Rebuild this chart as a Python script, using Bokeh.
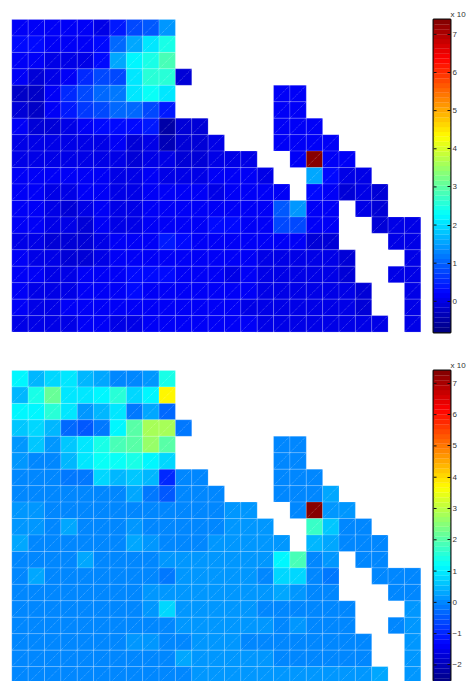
from bokeh.plotting import figure
from bokeh.layouts import column, row
from bokeh.models import Range1d, FixedTicker, LinearAxis, LinearColorMapper, ColumnDataSource
from bokeh.embed import file_html
from bokeh.resources import INLINE

_ = None
top_r0 = [.2,.2,.15,.15,.1,.05,.45,.8,.95,1.45,_,_,_,_,_,_,_,_,_,_,_,_,_,_,_]
top_r1 = [.25,.25,.15,.15,.1,.3,1.0,1.5,2.1,2.4,_,_,_,_,_,_,_,_,_,_,_,_,_,_,_]
top_r2 = [.1,.1,.0,.05,.05,.3,1.5,2.15,2.5,2.9,_,_,_,_,_,_,_,_,_,_,_,_,_,_,_]
top_r3 = [.1,-.1,.0,.1,.5,.8,.8,2.05,2.6,2.6,-.05,_,_,_,_,_,_,_,_,_,_,_,_,_,_]
top_r4 = [-.2,-.25,.1,.55,.8,1.05,1.2,2.1,2.3,2.05,_,_,_,_,_,_,.15,.15,_,_,_,_,_,_,_]
top_r5 = [-.1,-.25,.1,.45,.65,.85,1.0,1.1,.8,.4,_,_,_,_,_,_,.15,.15,_,_,_,_,_,_,_]
top_r6 = [.1,-.05,-.05,.05,.15,.3,.3,.3,.35,-.55,-.05,-.05,_,_,_,_,.15,.15,.15,_,_,_,_,_,_]
top_r7 = [.0,.0,.0,.05,.0,.05,.1,-.1,.0,-.3,-.05,-.05,.0,_,_,_,.15,.15,.1,.1,_,_,_,_,_]
top_r8 = [.05,.05,.05,.0,.0,.0,.0,-.15,.0,.05,-.05,-.1,.0,.05,.05,_,_,.15,7.3,.2,.15,_,_,_,_]
top_r9 = [.15,.1,.1,.1,.15,.1,.05,.0,.1,.05,.05,.0,.1,.1,.1,.05,_,_,1.5,.3,.05,.0,_,_,_]
top_r10 = [.15,.1,.05,.05,.1,.1,.05,.05,.1,.1,.1,.1,.05,.1,.1,.1,.1,_,.3,.15,-.1,.0,-.05,_,_]
top_r11 = [.1,.1,.0,-.05,.05,.1,.05,.0,.1,.1,.15,.1,.1,.1,.1,.1,.95,1.45,.1,.15,_,.0,-.05,_,_]
top_r12 = [.1,.1,.05,.05,-.05,.1,.05,.05,.15,.1,.15,.2,.3,.25,.15,.1,.85,.8,.2,.15,_,_,-.05,.0,.0]
top_r13 = [.05,.05,-.05,-.05,-.05,.05,.1,.15,.15,.35,.3,.2,.2,.1,.1,.1,.2,.1,-.05,-.05,_,_,_,.05,.05]
top_r14 = [.1,.05,.05,-.1,-.1,.05,.1,.1,.15,.15,.2,.15,.1,.1,.1,.05,.05,.05,.05,.05,-.1,_,_,_,.05]
top_r15 = [.1,.1,.05,.05,.15,.15,.1,.25,.3,.25,.1,.2,.1,.05,.1,.05,.05,.05,.05,.05,-.1,_,_,.05,.05]
top_r16 = [.1,.05,.05,.05,.15,.1,.1,.3,.15,.1,.1,.1,.1,.1,.1,.05,.05,.05,.05,.05,.0,-.05,_,_,.05]
top_r17 = [.1,.05,.05,.1,.15,.1,.1,.15,.1,.1,.1,.1,.1,.1,.05,.05,.05,.05,.05,.05,.0,-.05,_,_,.05]
top_r18 = [.05,.05,.05,.05,.1,.1,.05,.05,.1,.1,.1,.1,.1,.1,.1,.05,.05,.05,.05,.05,.05,.0,.0,_,.05]
top_rows = [top_r0, top_r1, top_r2, top_r3, top_r4, top_r5, top_r6, top_r7, top_r8, top_r9,
            top_r10, top_r11, top_r12, top_r13, top_r14, top_r15, top_r16, top_r17, top_r18]

bot_r0 = [1.15,.5,.7,1.0,.5,.3,.0,.0,.15,1.35,_,_,_,_,_,_,_,_,_,_,_,_,_,_,_]
bot_r1 = [.5,1.4,2.2,.95,.9,1.05,1.6,.85,1.05,3.7,_,_,_,_,_,_,_,_,_,_,_,_,_,_,_]
bot_r2 = [1.1,1.05,1.5,.9,.15,.5,.9,-.1,.3,-.25,_,_,_,_,_,_,_,_,_,_,_,_,_,_,_]
bot_r3 = [.6,.75,.45,-.3,-.55,-.2,1.15,2.0,2.75,2.8,-.1,_,_,_,_,_,_,_,_,_,_,_,_,_,_]
bot_r4 = [.2,.55,.2,.55,.9,1.35,1.8,2.1,2.6,2.1,_,_,_,_,_,_,.0,.0,_,_,_,_,_,_,_]
bot_r5 = [.1,.0,.05,.5,.9,1.2,1.3,1.35,1.15,.8,_,_,_,_,_,_,.0,.0,_,_,_,_,_,_,_]
bot_r6 = [.0,-.05,-.05,-.1,-.15,.75,.5,.55,.5,-1.0,.0,.0,_,_,_,_,.0,.0,.0,_,_,_,_,_,_]
bot_r7 = [.0,.0,.0,-.05,-.05,-.05,.05,.3,-.1,-.4,.05,.05,.05,_,_,_,.0,.0,.05,.25,_,_,_,_,_]
bot_r8 = [.15,.2,.05,.05,.0,.0,-.05,-.05,.0,.05,.05,.05,.05,.1,.1,_,_,.0,7.4,.2,.2,_,_,_,_]
bot_r9 = [.1,.15,.05,.25,.05,.05,.05,.2,.05,.05,.05,.05,.05,.1,.1,.1,_,_,1.7,.55,.05,.0,_,_,_]
bot_r10 = [.35,.05,.05,.05,.05,.05,.05,.3,.15,.05,.05,.05,.2,.2,.2,.15,.15,_,.5,.25,.0,.0,-.05,_,_]
bot_r11 = [.05,.05,.05,.05,.25,.05,.05,.05,.05,.1,.15,.1,.15,.15,.15,.15,1.15,1.8,.05,.1,_,.0,.0,_,_]
bot_r12 = [.05,.3,.05,.05,.05,.05,.05,.05,.05,-.1,.15,.1,.1,.15,.15,.05,.8,.7,-.05,-.1,_,_,-.05,.05,.05]
bot_r13 = [.05,.05,.05,.05,.05,.05,.05,.05,.15,.2,.15,.15,.2,.15,.1,.1,.25,.2,.0,.0,_,_,_,.05,.05]
bot_r14 = [.05,.05,.05,.05,.05,.05,.05,.05,.15,.75,.2,.15,.15,.15,.1,.05,.05,.05,.0,.0,.0,_,_,_,.1]
bot_r15 = [.05,.05,.05,.05,.05,.05,.05,.05,.05,-.05,.15,.15,.15,.15,.2,.15,-.05,.1,.05,.05,.05,_,_,.05,.1]
bot_r16 = [.05,.05,.05,.05,.05,.05,.05,.2,.15,.05,-.05,.15,.15,.1,.05,.05,.05,.05,.05,.05,.05,.05,_,_,.1]
bot_r17 = [.05,.05,.05,.05,.05,.05,.05,.05,.05,.05,.25,.15,.15,.15,.1,.1,.05,.05,.05,.05,.05,.05,_,_,.1]
bot_r18 = [.05,.05,.05,.05,.05,.05,.05,.05,.05,.05,.05,.2,.2,.15,.15,.1,.1,.1,.1,.1,.1,.1,.25,_,.1]
bot_rows = [bot_r0, bot_r1, bot_r2, bot_r3, bot_r4, bot_r5, bot_r6, bot_r7, bot_r8, bot_r9,
            bot_r10, bot_r11, bot_r12, bot_r13, bot_r14, bot_r15, bot_r16, bot_r17, bot_r18]

top_low, top_high = -0.81, 7.39
bot_low, bot_high = -2.58, 7.41
top_ticks = [0, 1, 2, 3, 4, 5, 6, 7]
bot_ticks = [-2, -1, 0, 1, 2, 3, 4, 5, 6, 7]
scale_label = "x 10"


def jet(n=64):
    def ramp(t):
        return max(0.0, min(1.0, 1.5 - abs(4 * t)))
    cols = []
    for i in range(n):
        t = (i + 0.5) / n
        r = ramp(t - 0.75)
        g = ramp(t - 0.5)
        b = ramp(t - 0.25)
        cols.append("#%02x%02x%02x" % (round(r * 255), round(g * 255), round(b * 255)))
    return cols


PAL = jet()
CW, CH = 16.36, 16.45
ORIGIN_X = 0


def heat(rows, low, high, page_top, page_bottom, grid_top):
    x0 = (ORIGIN_X - 11.3) / CW
    x1 = (431 - 11.3) / CW
    y0 = (page_bottom - grid_top) / CH
    y1 = (page_top - grid_top) / CH
    p = figure(width=431 - ORIGIN_X, height=page_bottom - page_top, toolbar_location=None, output_backend="svg",
               x_range=Range1d(x0, x1), y_range=Range1d(y0, y1), frame_align=False,
               min_border=0, min_border_left=0, min_border_right=0, min_border_top=0, min_border_bottom=0,
               outline_line_color=None, background_fill_color="white", border_fill_color="white",
               x_axis_type=None, y_axis_type=None)
    p.grid.visible = False
    xs, ys, vs = [], [], []
    for r, vals in enumerate(rows):
        for c, v in enumerate(vals):
            if v is not None:
                xs.append(c); ys.append(r); vs.append(v)
    src = ColumnDataSource(dict(l=xs, r=[x + 1 for x in xs], t=ys, b=[y + 1 for y in ys], v=vs))
    mapper = LinearColorMapper(palette=PAL, low=low, high=high)
    p.quad(left="l", right="r", top="t", bottom="b", source=src,
           fill_color={"field": "v", "transform": mapper},
           line_color="white", line_alpha=0.16, line_width=1)
    p.segment(x0="l", y0="b", x1="r", y1="t", source=src,
              line_color="white", line_alpha=0.5, line_width=0.6, line_dash="1 1")
    return p


def cbar(low, high, ticks, page_top, page_bottom, grid_top, bar_px):
    bar_bottom = min(grid_top + bar_px, page_bottom)
    bottom_border = int(round(page_bottom - bar_bottom))
    frame_h = (page_bottom - page_top) - (grid_top - page_top) - bottom_border
    hi = high
    lo = high - frame_h / bar_px * (high - low)
    p = figure(width=36, height=page_bottom - page_top, toolbar_location=None, output_backend="svg",
               x_range=Range1d(0, 1), y_range=Range1d(lo, hi), x_axis_type=None, y_axis_type=None,
               frame_align=False,
               min_border_left=2, min_border_right=17, min_border_top=grid_top - page_top,
               min_border_bottom=bottom_border, outline_line_color="#111111",
               outline_line_width=2, background_fill_color="white", border_fill_color="white",
               title=scale_label, title_location="above")
    p.title.text_font = "Liberation Sans"
    p.title.text_font_size = "8px"
    p.title.text_font_style = "normal"
    p.title.text_color = "#333333"
    p.title.align = "left"
    p.title.offset = 17
    p.title.standoff = 2
    p.grid.visible = False
    step = (high - low) / len(PAL)
    bottoms = [low + i * step for i in range(len(PAL))]
    p.quad(left=0, right=1, bottom=bottoms, top=[b + step for b in bottoms], fill_color=PAL, line_color=PAL, line_width=0.2)
    p.segment(x0=[0] * len(ticks), x1=[0.18] * len(ticks), y0=ticks, y1=ticks, line_color="#111111", line_width=1)
    right = LinearAxis(ticker=FixedTicker(ticks=ticks), axis_line_color=None,
                       major_tick_in=3, major_tick_out=0, major_tick_line_color="#111111",
                       minor_tick_line_color=None, major_label_standoff=2,
                       major_label_text_font="Liberation Sans", major_label_text_font_size="8px",
                       major_label_text_color="#333333")
    p.add_layout(right, "right")
    return p


h1 = heat(top_rows, top_low, top_high, 0, 345, 19)
c1 = cbar(top_low, top_high, top_ticks, 0, 345, 19, 312.7)
h2 = heat(bot_rows, bot_low, bot_high, 345, 681, 370)
c2 = cbar(bot_low, bot_high, bot_ticks, 345, 681, 370, 312.6)

layout = column(row(h1, c1, spacing=0), row(h2, c2, spacing=0), spacing=0)
open("out.html", "w").write(file_html(layout, INLINE))
